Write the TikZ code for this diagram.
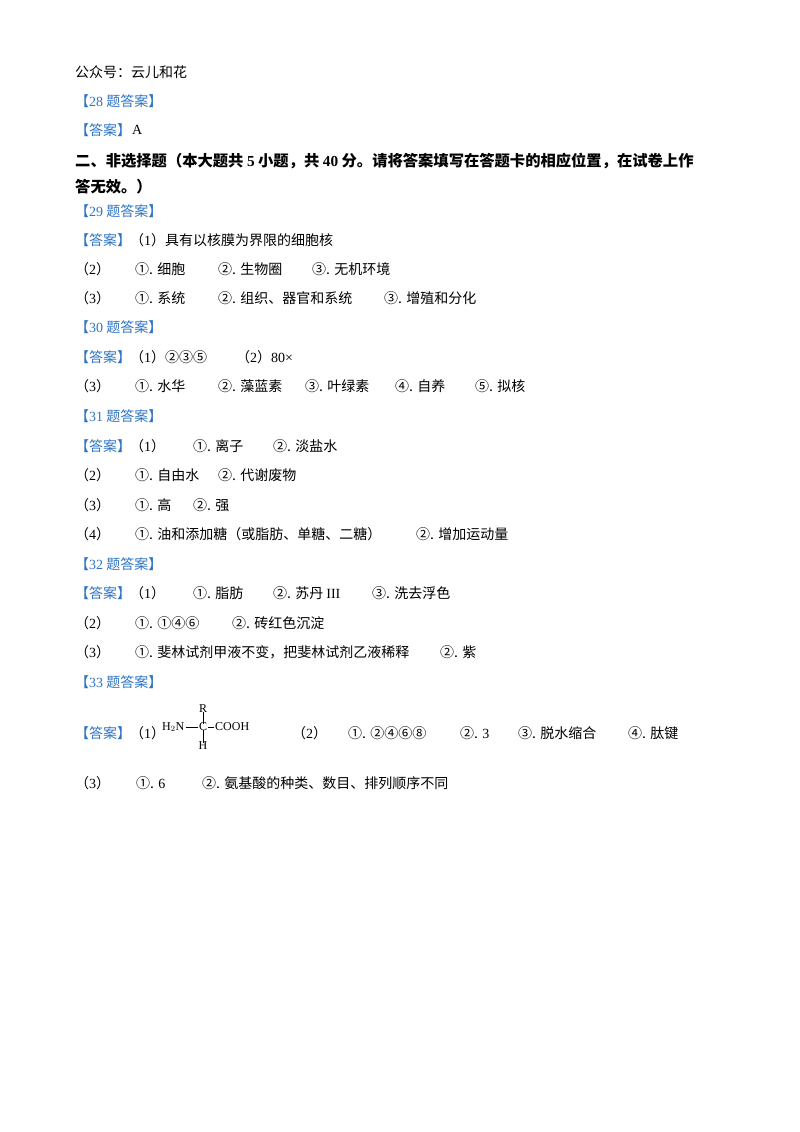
\documentclass[tikz,border=0pt]{standalone}
\usepackage{fontspec}
\setmainfont{Noto Sans CJK SC}
\newfontfamily\en{Liberation Serif}
\definecolor{ansblue}{RGB}{46,116,196}
\begin{document}
\begin{tikzpicture}[x=1pt,y=-1pt,
  t/.style={anchor=west,inner sep=0pt,font=\fontsize{14}{16}\selectfont},
  b/.style={t,text=ansblue},
  h/.style={t,font=\fontsize{15.3}{17}\selectfont\bfseries}]
\useasboundingbox (0,0) rectangle (800,1132);
\fill[white] (0,0) rectangle (800,1132);
\node[t] (l1) at (75,72) {公众号：云儿和花};
\node[b] (l2) at (75,101) {【{\en 28} 题答案】};
\node[b] (l3) at (75,130) {【答案】}; \node[t] (l3a) at (132,130) {\en A};
\node[h] (h1) at (75,161) {二、非选择题（本大题共 {\en 5} 小题，共 {\en 40} 分。请将答案填写在答题卡的相应位置，在试卷上作};
\node[h] (h2) at (75,187) {答无效。）};
\node[b] (q29) at (75,211) {【{\en 29} 题答案】};
\node[b] (a29) at (75,240) {【答案】}; \node[t] (a29a) at (130,240) {（{\en 1}）具有以核膜为界限的细胞核};
\node[t] at (75,269) {（{\en 2}）}; \node[t] at (135,269) {①. 细胞}; \node[t] at (218,269) {②. 生物圈}; \node[t] at (312,269) {③. 无机环境};
\node[t] at (75,298) {（{\en 3}）}; \node[t] at (135,298) {①. 系统}; \node[t] at (218,298) {②. 组织、器官和系统}; \node[t] at (384,298) {③. 增殖和分化};
\node[b] (q30) at (75,327) {【{\en 30} 题答案】};
\node[b] at (75,357) {【答案】}; \node[t] at (130,357) {（{\en 1}）②③⑤}; \node[t] at (236,357) {（{\en 2}）{\en 80×}};
\node[t] at (75,386) {（{\en 3}）}; \node[t] at (135,386) {①. 水华}; \node[t] at (218,386) {②. 藻蓝素}; \node[t] at (305,386) {③. 叶绿素}; \node[t] at (395,386) {④. 自养}; \node[t] at (475,386) {⑤. 拟核};
\node[b] (q31) at (75,416) {【{\en 31} 题答案】};
\node[b] at (75,446) {【答案】}; \node[t] at (130,446) {（{\en 1}）}; \node[t] at (193,446) {①. 离子}; \node[t] at (273,446) {②. 淡盐水};
\node[t] at (75,475) {（{\en 2}）}; \node[t] at (135,475) {①. 自由水}; \node[t] at (218,475) {②. 代谢废物};
\node[t] at (75,505) {（{\en 3}）}; \node[t] at (135,505) {①. 高}; \node[t] at (193,505) {②. 强};
\node[t] at (75,534) {（{\en 4}）}; \node[t] at (135,534) {①. 油和添加糖（或脂肪、单糖、二糖）}; \node[t] at (416,534) {②. 增加运动量};
\node[b] (q32) at (75,564) {【{\en 32} 题答案】};
\node[b] at (75,593) {【答案】}; \node[t] at (130,593) {（{\en 1}）}; \node[t] at (193,593) {①. 脂肪}; \node[t] at (273,593) {②. 苏丹 {\en III}}; \node[t] at (372,593) {③. 洗去浮色};
\node[t] at (75,623) {（{\en 2}）}; \node[t] at (135,623) {①. ①④⑥}; \node[t] at (232,623) {②. 砖红色沉淀};
\node[t] at (75,652) {（{\en 3}）}; \node[t] at (135,652) {①. 斐林试剂甲液不变，把斐林试剂乙液稀释}; \node[t] at (440,652) {②. 紫};
\node[b] (q33) at (75,682) {【{\en 33} 题答案】};
\node[b] at (75,733) {【答案】}; \node[t] at (130,733) {（{\en 1}）};
\begin{scope}[every node/.style={inner sep=0pt,font=\en\fontsize{12}{14}\selectfont}]
\node[anchor=west] (nh) at (162,727) {H$_2$N};
\node (c) at (203,727) {C};
\node[anchor=west] (co) at (215,727) {COOH};
\node (r) at (203,709) {R};
\node (hh) at (203,746) {H};
\draw[line width=0.5pt] ([xshift=1.5pt]nh.east) -- ([xshift=-1pt]c.west) ([xshift=1pt]c.east) -- ([xshift=-1pt]co.west) ([yshift=-1pt]c.north) -- ([yshift=1pt]r.south) ([yshift=1pt]c.south) -- ([yshift=-1pt]hh.north);
\end{scope}
\node[t] at (292,733) {（{\en 2}）}; \node[t] at (348,733) {①. ②④⑥⑧}; \node[t] at (460,733) {②. {\en 3}}; \node[t] at (518,733) {③. 脱水缩合}; \node[t] at (628,733) {④. 肽键};
\node[t] at (75,783) {（{\en 3}）}; \node[t] at (136,783) {①. {\en 6}}; \node[t] at (202,783) {②. 氨基酸的种类、数目、排列顺序不同};
\end{tikzpicture}
\end{document}
